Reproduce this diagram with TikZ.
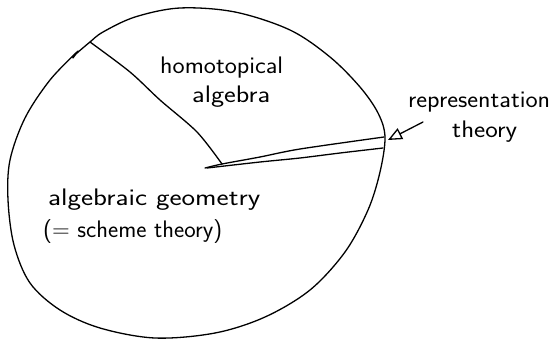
\documentclass[tikz,border=0pt]{standalone}
\usetikzlibrary{arrows.meta}
\newcommand\fitw[2]{\resizebox{#1}{\height}{#2}}
\tikzset{
  pen/.style={line width=1.3bp, line cap=round, line join=round, black},
  hand/.style={inner sep=0pt, anchor=base west, font=\sffamily\fontsize{24}{28}\selectfont},
}
\begin{document}
\begin{tikzpicture}[x=1bp,y=-1bp]
\useasboundingbox (0,0) rectangle (552,340);
% outer region boundary
\draw[pen] plot[smooth, tension=0.55] coordinates {
  (78,51) (50,80) (25,118) (10,160) (8,200) (14,245) (30,283) (60,310) (100,328)
  (155,338) (215,333) (265,317) (310,290) (345,252) (368,210) (380,172) (385,137)
  (378,113) (360,87) (330,57) (290,30) (235,12) (180,8) (135,17) (103,32) (90,42)
  (84,47) (76,54) (73,58)};
% boundary between homotopical algebra and algebraic geometry
\draw[pen] plot[smooth, tension=0.5] coordinates {
  (90,42) (130,72) (160,100) (197,132) (222,164)};
% thin wedge of representation theory
\draw[pen] plot[smooth, tension=0.5] coordinates {
  (384,137) (300,149) (260,157) (222,164) (205,168)};
\draw[pen] plot[smooth, tension=0.5] coordinates {
  (207,168) (260,162) (300,158) (340,153) (383,148)};
% labels
\node[hand] (ha1) at (160,73) {\fitw{123bp}{homotopical}};
\node[hand] (ha2) at (192,102) {\fitw{78bp}{algebra}};
\node[hand] (ag1) at (48,205) {\fitw{212bp}{algebraic geometry}};
\node[hand] (ag2) at (43,237) {\fitw{179bp}{(= scheme theory)}};
\node[hand] (rt1) at (408,107) {\fitw{142bp}{representation}};
\node[hand] (rt2) at (452,137) {\fitw{65bp}{theory}};
% arrow
\coordinate (tail) at (423,122);
\coordinate (tip) at (388,140);
\draw[pen, -{Triangle[open, length=14bp, width=12bp]}] (tail) -- (tip);
\end{tikzpicture}
\end{document}
